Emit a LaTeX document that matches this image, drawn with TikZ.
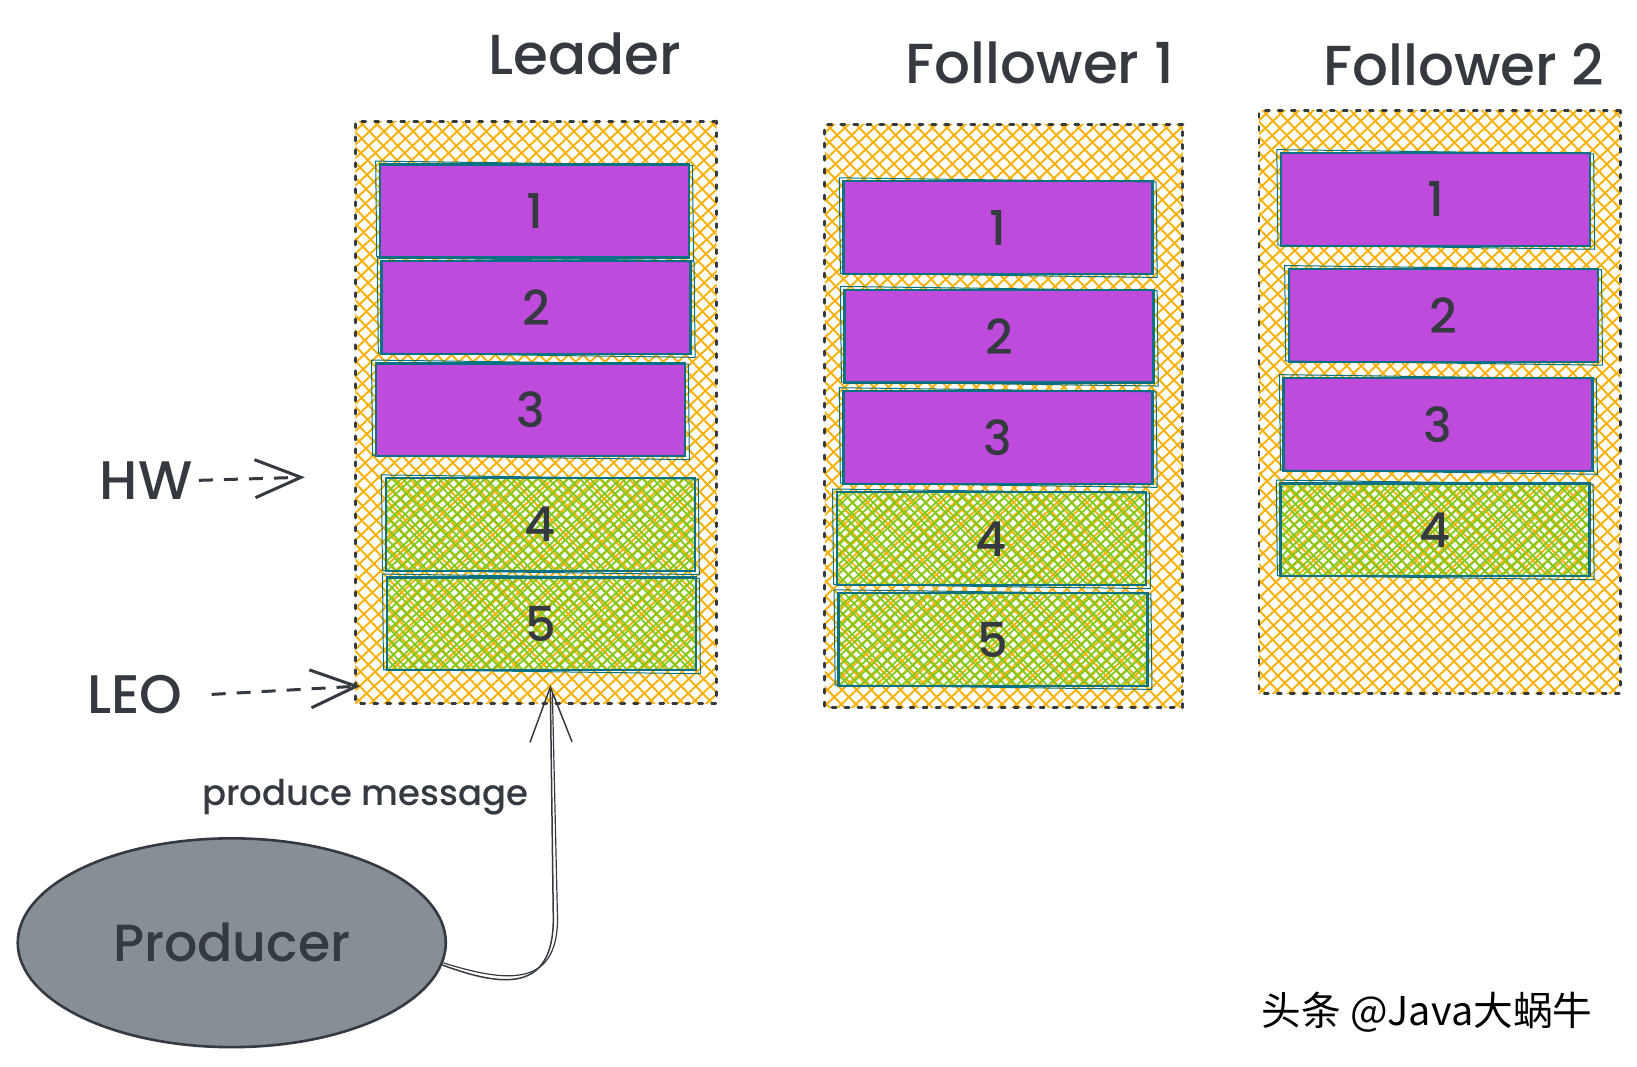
\documentclass[tikz,border=0pt]{standalone}
\usepackage{fontspec}
\setmainfont{Poppins}[UprightFont=* Medium]
\newfontfamily\cjk{Noto Sans CJK SC}
\usetikzlibrary{arrows.meta,shapes.geometric}
\definecolor{ink}{HTML}{343A40}
\definecolor{hatchO}{HTML}{FAB005}
\definecolor{purp}{HTML}{BE4BDB}
\definecolor{hatchG}{HTML}{82C91E}
\definecolor{edge}{HTML}{0B7285}
\definecolor{prodfill}{HTML}{868E96}
\begin{document}
\begin{tikzpicture}[x=1pt,y=-1pt,scale=1.044,transform shape,
  xhatch/.style n args={3}{path picture={
     \foreach \k in {-45,...,45}{
       \draw[#1, line width=#2, solid, line cap=butt]
          ([shift={(\k*#3-450pt,-420pt)}]path picture bounding box.center) -- ++(900pt,840pt);
       \draw[#1, line width=#2, solid, line cap=butt]
          ([shift={(\k*#3-450pt,470pt)}]path picture bounding box.center) -- ++(900pt,-940pt);
     }}},
  container/.style={inner sep=0, minimum width=346pt, minimum height=558pt,
     xhatch={hatchO}{1.9pt}{14pt},
     draw=ink, line width=2.8pt, dash pattern=on 4pt off 9pt, line cap=round},
  seg/.style={draw=edge, line width=2.4pt, inner sep=0, minimum width=296pt, minimum height=89pt,
     text=ink, font=\fontsize{46}{50}\selectfont},
  old/.style={seg, fill=purp},
  new/.style={seg, xhatch={hatchG}{1.8pt}{10pt}},
  title/.style={text=ink, font=\fontsize{54}{60}\selectfont},
  lbl/.style={text=ink, font=\fontsize{52}{56}\selectfont, inner sep=6pt},
  ptr/.style={ink, line width=3pt, dash pattern=on 14pt off 11pt,
     -{Straight Barb[length=46pt,width=38pt,line width=3pt]}},
  rough/.style={edge, line width=1pt}
]
\useasboundingbox (0,0) rectangle (1568,1022);

% containers
\node[container] (CL) at (513.5,395) {};
\node[container, minimum width=343pt, minimum height=559pt] (CF1) at (961.5,398.5) {};
\node[container] (CF2) at (1379,385) {};

% titles
\node[title] (TL) at (560,52) {Leader};
\node[title] (TF1) at (996,60) {Follower 1};
\node[title] (TF2) at (1402,62) {Follower 2};

% leader log
\node[old] (L1) at (512,202) {1};
\node[old] (L2) at (513.5,294.5) {2};
\node[old] (L3) at (508,392.5) {3};
\node[new] (L4) at (517.5,502.5) {4};
\node[new] (L5) at (518.5,597.5) {5};

% follower 1 log
\node[old] (A1) at (956,218) {1};
\node[old] (A2) at (957,322) {2};
\node[old] (A3) at (956,419) {3};
\node[new] (A4) at (949.5,516) {4};
\node[new] (A5) at (951,612.5) {5};

% follower 2 log
\node[old] (B1) at (1375,191) {1};
\node[old] (B2) at (1382.5,302) {2};
\node[old] (B3) at (1377.5,406.5) {3};
\node[new] (B4) at (1374.5,507.5) {4};

% sketchy second outlines
\foreach \n in {L1,L2,L3,L4,L5,A1,A2,A3,A4,A5,B1,B2,B3,B4}{
  \draw[rough] ([shift={(-3pt,2pt)}]\n.north west) -- ([shift={(2pt,-2pt)}]\n.north east)
     -- ([shift={(3pt,-2pt)}]\n.south east) -- ([shift={(-2pt,2pt)}]\n.south west) -- cycle;
}

% HW / LEO
\node[lbl] (HW) at (140,460) {HW};
\coordinate (hwEnd) at (292,457);
\draw[ptr] (HW.east) -- (hwEnd);

\node[lbl] (LEO) at (129,665) {LEO};
\coordinate (leoEnd) at (345,657);
\draw[ptr] ([xshift=22pt]LEO.east) -- (leoEnd);

% producer
\node[ellipse, draw=ink, line width=2.6pt, fill=prodfill, minimum width=410pt, minimum height=200pt,
      text=ink, font=\fontsize{50}{54}\selectfont] (P) at (222,903) {Producer};
\node[text=ink, font=\fontsize{34}{38}\selectfont] (PM) at (350,764) {produce message};
\coordinate (pmEnd) at (527,656);
\draw[ink, line width=1.5pt, -{Straight Barb[length=55pt,width=42pt,line width=1.5pt]}]
   (P.-6) .. controls (480,945) and (530,952) .. (530,880) -- (pmEnd);
\draw[ink, line width=1.2pt]
   ([shift={(1pt,2pt)}]P.-6) .. controls (482,940) and (534,948) .. (534,880) -- ([xshift=2pt,yshift=-8pt]pmEnd);

% watermark
\node[font=\cjk\fontsize{38}{40}\selectfont, text=black] (WM) at (1367,970) {头条 @Java大蜗牛};
\end{tikzpicture}
\end{document}
